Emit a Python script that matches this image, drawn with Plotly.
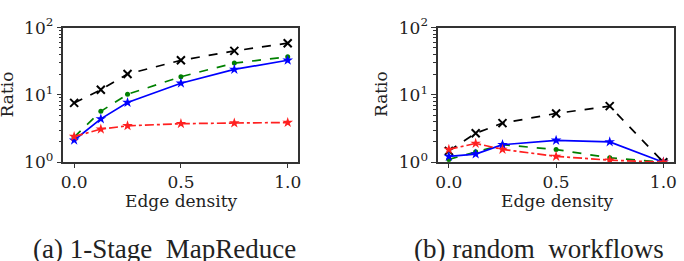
import plotly.graph_objects as go

W, H = 684, 261

edge_density = [0.0, 0.125, 0.25, 0.5, 0.75, 1.0]

# (a) 1-Stage MapReduce
a_black = [7.6, 11.9, 20.4, 32.6, 45.0, 58.6]
a_green = [2.35, 5.7, 10.2, 18.6, 29.7, 36.7]
a_blue = [2.12, 4.4, 7.7, 14.9, 23.9, 32.7]
a_red = [2.4, 3.1, 3.47, 3.73, 3.82, 3.88]

# (b) random workflows
b_black = [1.47, 2.69, 3.8, 5.3, 6.8, 1.0]
b_green = [1.1, 1.43, 1.82, 1.54, 1.16, 1.0]
b_blue = [1.22, 1.32, 1.82, 2.11, 2.0, 1.0]
b_red = [1.55, 1.9, 1.55, 1.22, 1.07, 1.0]

ytick_vals = [1, 10, 100]
ytick_text = ["10<sup>0</sup>", "10<sup>1</sup>", "10<sup>2</sup>"]
xtick_vals = [0.0, 0.5, 1.0]
xtick_text = ["0.0", "0.5", "1.0"]
minor_vals = [m * d for d in (1, 10) for m in range(2, 10)]

captions = ["(a) 1-Stage  MapReduce", "(b) random  workflows"]

SERIF = "'DejaVu Serif', serif"
TIMES = "'Liberation Serif', 'Times New Roman', serif"
TICK_FONT = dict(family=SERIF, size=17, color="#222")
AX_COL = "#333"

fig = go.Figure()

series_style = [
    ("black", "dash", "x-thin", 8, 2),
    ("#008000", "dash", "circle", 5, 0),
    ("#0000ff", "solid", "star", 8, 0),
    ("#ff2020", "dashdot", "star", 8, 0),
]

panels = [
    ("x", "y", [a_black, a_green, a_blue, a_red]),
    ("x2", "y2", [b_black, b_green, b_blue, b_red]),
]

for xa, ya, data in panels:
    for vals, (col, dash, sym, size, lw) in zip(data, series_style):
        marker = dict(symbol=sym, size=size, color=col)
        if lw:
            marker["line"] = dict(color=col, width=lw)
        fig.add_trace(go.Scatter(
            x=edge_density, y=vals, xaxis=xa, yaxis=ya,
            mode="lines+markers",
            line=dict(color=col, dash=dash, width=1.7),
            marker=marker, showlegend=False,
        ))

def px(x):
    return x / W

def py(y):
    return 1 - y / H

xdom = [[px(61), px(298)], [px(439), px(677)]]
ydom = [py(164), py(17)]

common_x = dict(
    range=[-0.05, 1.05], tickmode="array", tickvals=xtick_vals, ticktext=xtick_text,
    ticks="outside", ticklen=4, tickwidth=1.2, tickcolor=AX_COL,
    showline=True, linecolor=AX_COL, linewidth=1.5, mirror=True,
    showgrid=False, zeroline=False, tickfont=TICK_FONT,
)
common_y = dict(
    type="log", range=[0, 2], tickmode="array", tickvals=ytick_vals, ticktext=ytick_text,
    ticks="outside", ticklen=5, tickwidth=1.2, tickcolor=AX_COL,
    showline=True, linecolor=AX_COL, linewidth=1.5, mirror=True,
    showgrid=False, zeroline=False, tickfont=TICK_FONT,
    minor=dict(tickmode="array", tickvals=minor_vals, ticks="outside", ticklen=3,
               tickwidth=1.2, tickcolor=AX_COL, showgrid=False),
)

fig.update_layout(
    width=W, height=H, margin=dict(l=0, r=0, t=0, b=0),
    paper_bgcolor="white", plot_bgcolor="white",
    font=dict(family=SERIF),
    xaxis=dict(domain=xdom[0], anchor="y", **common_x),
    yaxis=dict(domain=ydom, anchor="x", **common_y),
    xaxis2=dict(domain=xdom[1], anchor="y2", **common_x),
    yaxis2=dict(domain=ydom, anchor="x2", **common_y),
)

ann_font = dict(family=SERIF, size=17, color="#222")
cap_font = dict(family=TIMES, size=27, color="#222")
annots = []
for i, (xc_label, xc_ratio, xc_cap) in enumerate([(180, 4, 163), (559, 382, 541)]):
    annots.append(dict(x=px(xc_label), y=py(206), xref="paper", yref="paper",
                       text="Edge density", showarrow=False, font=ann_font,
                       xanchor="center", yanchor="middle"))
    annots.append(dict(x=px(xc_ratio), y=py(90), xref="paper", yref="paper",
                       text="Ratio", showarrow=False, font=ann_font, textangle=-90,
                       xanchor="center", yanchor="middle"))
    annots.append(dict(x=px(xc_cap), y=py(259), xref="paper", yref="paper",
                       text=captions[i], showarrow=False, font=cap_font,
                       xanchor="center", yanchor="middle"))
fig.update_layout(annotations=annots)

fig.write_html("out.html")
